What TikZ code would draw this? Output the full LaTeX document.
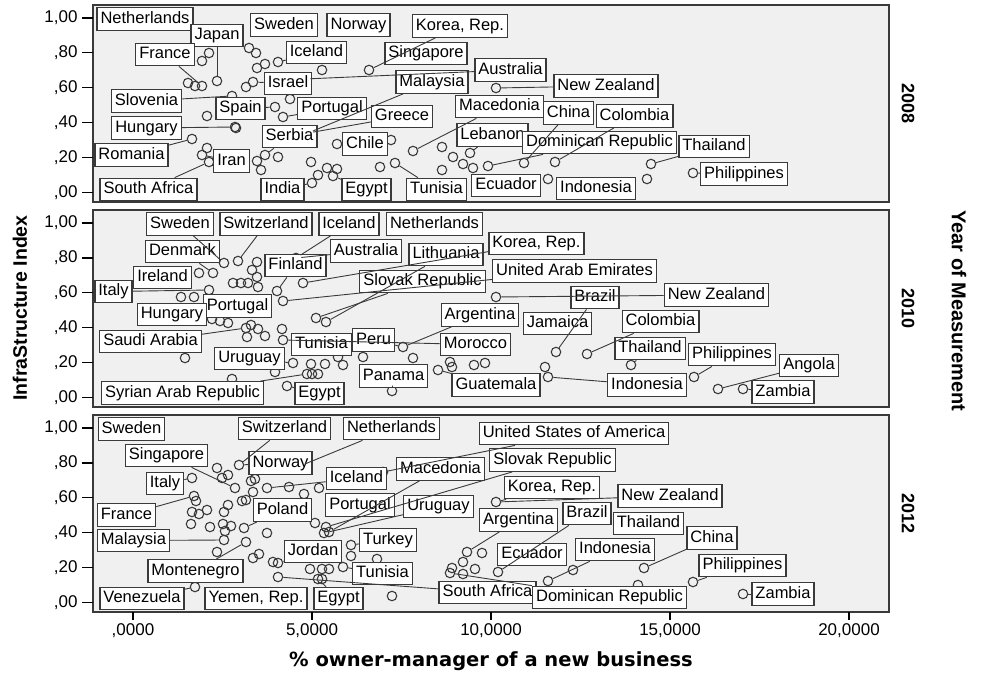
\documentclass[tikz,border=0pt]{standalone}
\usepackage{fontspec}
\setmainfont{Liberation Sans}
\newfontfamily\widefont{DejaVu Sans}
\usepackage{xcolor}
\definecolor{panelgray}{RGB}{240,240,240}
\definecolor{inkgray}{RGB}{58,58,58}

\begin{document}
\begin{tikzpicture}[x=1pt,y=-1pt,
  panel/.style={fill=panelgray,draw=inkgray,line width=1.2pt},
  pt/.style={circle,draw=inkgray,line width=1.1pt,minimum size=9.5pt,inner sep=0pt},
  lab/.style={draw=inkgray,fill=white,line width=1.3pt,inner xsep=3.5pt,inner ysep=3.5pt,
    text height=12pt,text depth=3.5pt,font=\fontsize{16.5}{18}\selectfont},
  lead/.style={inkgray,line width=0.9pt},
  axisline/.style={black,line width=1.2pt},
  ticklab/.style={font=\fontsize{17}{19}\selectfont},
  yearlab/.style={font=\fontsize{18}{20}\selectfont\bfseries},
  axtitle/.style={font=\fontsize{19.5}{22}\selectfont\bfseries}]
  \useasboundingbox (0,0) rectangle (986,674);

  % panels, year labels and y axes
  \foreach \t/\b/\yr in {5/202/2008,210/407/2010,415/612/2012} {
    \draw[panel] (93,\t) rectangle (889,\b);
    \node[yearlab,rotate=-90] (yr\yr) at (908,{(\t+\b)/2}) {\yr};
    \foreach \k/\s in {0/{1,00},1/{,80},2/{,60},3/{,40},4/{,20},5/{,00}} {
      \draw[axisline] (82,{\t+13+\k*34.9}) -- (93,{\t+13+\k*34.9});
      \node[ticklab,anchor=east] (yl\yr-\k) at (81,{\t+13+\k*34.9}) {\s};
    }
  }
  \foreach \i/\s in {0/{,0000},1/{5,0000},2/{10,0000},3/{15,0000},4/{20,0000}} {
    \draw[axisline] ({133+179*\i},612) -- ({133+179*\i},620);
    \node[ticklab] (xl\i) at ({133+179*\i},631) {\s};
  }
  \node[axtitle,font=\fontsize{19.5}{22}\widefont\bfseries] (xtitle) at (491,661) {\% owner-manager of a new business};
  \node[axtitle,rotate=90] (ytitle) at (20,308) {InfraStructure Index};
  \node[axtitle,rotate=-90,font=\fontsize{20}{22}\selectfont\bfseries] (ztitle) at (959,311) {Year of Measurement};

  % 2008
  \foreach \n/\x/\y in {1/188/83,2/195/86,3/202/86,4/202/61,5/209/53,6/217/81,7/207/116,
      8/249/48,9/256/53,10/257/68,11/265/64,12/278/62,13/246/87,14/253/82,15/232/96,
      16/235/127,17/275/107,18/290/99,19/283/117,20/192/139,21/202/155,22/207/148,
      23/209/162,24/257/161,25/265/155,26/278/157,27/261/170,28/311/162,29/312/183,
      30/318/175,31/327/168,32/333/176,33/337/169,34/337/144,35/391/140,36/380/167,
      37/395/163,38/322/70,39/369/70,40/413/151,41/442/147,42/453/157,43/463/164,
      44/470/153,45/442/170,46/473/168,47/488/166,48/496/88,49/524/163,50/555/162,
      51/548/179,52/651/164,53/647/179,54/693/173,55/308/133,56/305/79,57/236/128}
    \node[pt] (a\n) at (\x,\y) {};
  \foreach \n/\x/\y/\t in {Netherlands/145/19/Netherlands,Japan/217/35.5/Japan,
      Sweden/284/25/Sweden,Norway/358.5/25/Norway,Korea/460/26/{Korea, Rep.},
      France/165/54.5/France,Iceland/316.5/52.5/Iceland,Singapore/426/53.5/Singapore,
      Australia/510.5/70/Australia,Israel/288/83.5/Israel,Malaysia/432/82/Malaysia,
      NewZealand/606/86/New Zealand,Slovenia/146.5/101/Slovenia,Spain/240.5/108.5/Spain,
      Portugal/332/108.5/Portugal,Greece/402/116.5/Greece,Macedonia/499.5/106.5/Macedonia,
      China/568.5/113/China,Colombia/634.5/116/Colombia,Hungary/146.5/128/Hungary,
      Serbia/289.5/136.5/Serbia,Lebanon/492.5/135/Lebanon,Chile/365/144/Chile,
      Dominican/599.5/142.5/Dominican Republic,Thailand/714/146.5/Thailand,
      Romania/131.5/155/Romania,Iran/231.5/161/Iran,Philippines/744/174/Philippines,
      SouthAfrica/148.5/189.5/South Africa,India/282.5/189.5/India,Egypt/366.5/189.5/Egypt,
      Tunisia/436.5/189.5/Tunisia,Ecuador/506/185.5/Ecuador,Indonesia/596/188.5/Indonesia}
    \node[lab] (a\n) at (\x,\y) {\t};
  \foreach \l/\p in {Japan/6,France/3,Iceland/12,Israel/14,Slovenia/15,Hungary/16,
      Romania/20,SouthAfrica/23,Iran/21,Serbia/25,Malaysia/55,Greece/55,Portugal/19,
      Spain/17,Chile/34,Egypt/32,India/29,Tunisia/37,Macedonia/40,Lebanon/44,China/49,
      Dominican/47,Colombia/50,Thailand/52,Philippines/54,NewZealand/48,Australia/56,Korea/39}
    \draw[lead] (a\l) -- (a\p);

  % 2010
  \foreach \n/\x/\y in {1/185/358,2/181/297,3/194/297,4/199/273,5/213/273,6/209/290,
      7/224/263,8/238/261,9/257/262,10/252/270,11/257/277,12/233/283,13/241/283,
      14/248/283,15/258/287,16/277/291,17/283/301,18/303/283,19/316/318,20/326/322,
      21/212/319,22/220/321,23/228/323,24/246/328,25/251/325,26/247/337,27/258/329,
      28/265/336,29/282/329,30/283/340,31/293/363,32/275/372,33/311/364,34/325/364,
      35/343/365,36/338/357,37/363/357,38/413/358,39/403/347,40/392/391,41/287/386,
      42/307/374,43/312/374,44/318/374,45/232/379,46/496/297,47/556/352,48/587/354,
      49/450/362,50/452/367,51/438/370,52/474/365,53/485/363,54/545/367,55/548/377,
      56/631/365,57/694/377,58/718/389,59/743/389,60/296/258}
    \node[pt] (b\n) at (\x,\y) {};
  \foreach \n/\x/\y/\t in {Sweden/180/224/Sweden,Switzerland/266/224/Switzerland,
      Iceland/349/224/Iceland,Netherlands/434.5/224/Netherlands,Korea/536.5/243.5/{Korea, Rep.},
      Denmark/182.5/251.5/Denmark,Australia/366/251/Australia,Lithuania/446/254.5/Lithuania,
      Finland/295.5/265.5/Finland,UAE/574.5/271/United Arab Emirates,Ireland/162.5/277.5/Ireland,
      Italy/113.5/291.5/Italy,Slovak/422.5/281.5/Slovak Republic,Brazil/595/297.5/Brazil,
      NewZealand/716.5/295/New Zealand,Portugal/237.5/306/Portugal,Hungary/172/314.5/Hungary,
      Argentina/480/315/Argentina,Jamaica/557.5/323.5/Jamaica,Colombia/660.5/321.5/Colombia,
      SaudiArabia/150.5/341.5/Saudi Arabia,Tunisia/321.5/344.5/Tunisia,Peru/373.5/340/Peru,
      Morocco/475.5/344.5/Morocco,Thailand/650/348.5/Thailand,Philippines/732/354.5/Philippines,
      Uruguay/249.5/358.5/Uruguay,Angola/809/365.5/Angola,Panama/393.5/376/Panama,
      Guatemala/496/385/Guatemala,Indonesia/647/385/Indonesia,Zambia/783/392/Zambia,
      Syria/182.5/393/Syrian Arab Republic,Egypt/319.5/393.5/Egypt}
    \node[lab] (b\n) at (\x,\y) {\t};
  \foreach \l/\p in {Switzerland/8,Sweden/7,Denmark/5,Iceland/60,Australia/60,Finland/16,
      Lithuania/20,Korea/18,Slovak/19,UAE/17,NewZealand/46,Brazil/47,Colombia/48,
      Argentina/39,Peru/39,Morocco/30,Italy/6,SaudiArabia/24,Syria/42,Egypt/41,Panama/40,
      Guatemala/51,Indonesia/55,Thailand/56,Philippines/57,Angola/58,Zambia/59,Uruguay/31}
    \draw[lead] (b\l) -- (b\p);

  % 2012
  \foreach \n/\x/\y in {1/192/478,2/194/496,3/196/501,4/192/512,5/199/514,6/207/510,
      7/191/524,8/210/527,9/217/468,10/222/478,11/228/475,12/235/488,13/224/512,
      14/228/505,15/223/524,16/231/526,17/225/531,18/244/528,19/224/540,20/217/552,
      21/246/542,22/253/558,23/259/554,24/239/465,25/251/481,26/255/479,27/253/492,
      28/242/501,29/246/500,30/267/488,31/289/487,32/304/494,33/319/488,34/267/533,
      35/315/523,36/326/527,37/324/533,38/329/532,39/351/545,40/351/556,41/377/559,
      42/343/567,43/273/562,44/278/563,45/310/569,46/322/569,47/329/569,48/278/577,
      49/318/579,50/322/579,51/392/596,52/195/587,53/496/502,54/467/552,55/482/553,
      56/463/562,57/475/569,58/452/568,59/450/573,60/463/574,61/498/572,62/548/581,
      63/573/570,64/644/568,65/638/585,66/693/582,67/743/594,68/300/466,69/383/472}
    \node[pt] (c\n) at (\x,\y) {};
  \foreach \n/\x/\y/\t in {Sweden/131.5/429/Sweden,Switzerland/284.5/428.5/Switzerland,
      Netherlands/391.5/428.5/Netherlands,USA/574/433.5/United States of America,
      Singapore/166.5/455.5/Singapore,Norway/280.5/463/Norway,Slovak/552.5/460/Slovak Republic,
      Macedonia/440.5/469/Macedonia,Iceland/356.5/478.5/Iceland,Italy/165/483.5/Italy,
      Korea/552/487.5/{Korea, Rep.},NewZealand/670/496/New Zealand,Portugal/360/505/Portugal,
      Uruguay/438.5/506.5/Uruguay,Poland/282.5/510/Poland,France/126.5/515/France,
      Brazil/587/513.5/Brazil,Argentina/518.5/520/Argentina,Thailand/648.5/523.5/Thailand,
      Malaysia/133.5/540.5/Malaysia,Turkey/388/540/Turkey,Jordan/313/551.5/Jordan,
      China/712/538/China,Ecuador/532/554.5/Ecuador,Indonesia/615/549.5/Indonesia,
      Montenegro/195.5/571/Montenegro,Tunisia/382.5/573.5/Tunisia,
      Philippines/742.5/565.5/Philippines,SouthAfrica/487.5/592.5/South Africa,
      Dominican/609.5/597.5/Dominican Republic,Zambia/783/594/Zambia,
      Venezuela/142/598.5/Venezuela,Yemen/256/598.5/{Yemen, Rep.},Egypt/338.5/598.5/Egypt}
    \node[lab] (c\n) at (\x,\y) {\t};
  \foreach \l/\p in {Switzerland/24,Norway/24,Netherlands/68,USA/69,Singapore/12,Italy/1,
      France/2,Iceland/30,Macedonia/38,Uruguay/37,Slovak/36,Korea/53,NewZealand/53,
      Argentina/54,Brazil/61,Indonesia/62,China/64,Philippines/66,Zambia/67,Dominican/59,
      SouthAfrica/48,Poland/18,Turkey/39,Jordan/44,Tunisia/42,Egypt/49,Venezuela/52,
      Montenegro/21,Malaysia/19}
    \draw[lead] (c\l) -- (c\p);
\end{tikzpicture}
\end{document}
